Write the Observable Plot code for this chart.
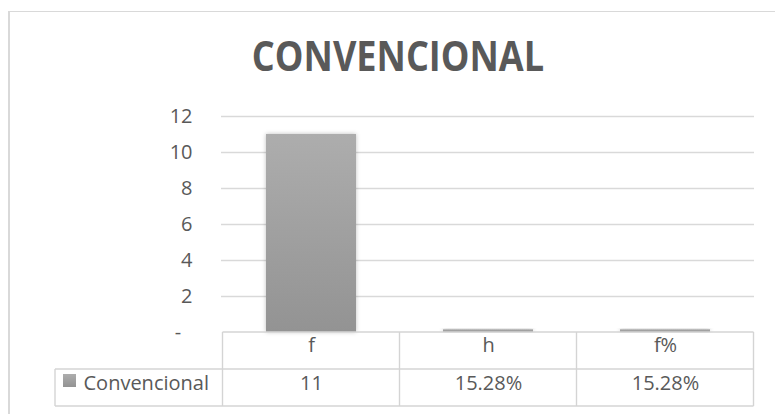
<!DOCTYPE html>
<html>
<head>
<meta charset="utf-8">
<script src="https://cdn.jsdelivr.net/npm/d3@7"></script>
<script src="https://cdn.jsdelivr.net/npm/@observablehq/plot@0.6"></script>
<style>
  html, body { margin: 0; padding: 0; background: #ffffff; }
  #wrap { position: relative; width: 775px; height: 414px; overflow: hidden; background: #fff; }
  #frame { position: absolute; left: 8px; top: 11px; width: 790px; height: 420px;
           border-left: 2px solid #d9d9d9; border-top: 1px solid #d9d9d9; box-sizing: border-box; }
  #title { position: absolute; left: 398px; top: 35px; transform: translateX(-50%) scaleX(0.88);
           font-family: "Open Sans", sans-serif; font-weight: 700; font-size: 41px; color: #595959;
           white-space: nowrap; line-height: 1; }
  #chart { position: absolute; left: 0; top: 0; }
</style>
</head>
<body>
<div id="wrap">
  <div id="frame"></div>
  <div id="chart"></div>
  <div id="title">CONVENCIONAL</div>
</div>
<script>
const categories = ["f", "h", "f%"];
const values = [11, 0.1528, 0.1528];
const valueLabels = ["11", "15.28%", "15.28%"];
const seriesName = "Convencional";
const yTicks = [0, 2, 4, 6, 8, 10, 12];
const chartTitle = "CONVENCIONAL";

document.getElementById("title").textContent = chartTitle;

const data = categories.map((c, i) => ({cat: c, value: values[i], label: valueLabels[i]}));
const textColor = "#595959";
const gridColor = "#d9d9d9";

const chart = Plot.plot({
  width: 775,
  height: 414,
  marginLeft: 221,
  marginRight: 21,
  marginTop: 116,
  marginBottom: 82,
  style: {fontFamily: "'Open Sans', sans-serif", fontSize: "20px", color: textColor, background: "transparent", overflow: "visible"},
  x: {domain: categories, paddingInner: 0.4935, paddingOuter: 0.2467, axis: null},
  y: {domain: [0, 12], axis: null, label: null},
  marks: [
    Plot.gridY(yTicks.filter(d => d > 0), {stroke: gridColor, strokeOpacity: 1, strokeWidth: 1.4}),
    Plot.axisY(yTicks, {tickSize: 0, tickPadding: 29, fill: textColor, fontSize: 20, label: null,
      tickFormat: d => d === 0 ? "-\u2007" : String(d)}),
    Plot.barY(data, {x: "cat", y: "value", fill: "url(#barGrad)"}),
    Plot.text(data, {x: "cat", text: "cat", frameAnchor: "bottom", dy: 19.6, fill: textColor, fontSize: 20}),
    Plot.text(data, {x: "cat", text: "label", frameAnchor: "bottom", dy: 57.6, fill: textColor, fontSize: 20}),
    Plot.text([seriesName], {text: d => d, frameAnchor: "bottom-left", textAnchor: "start", dx: -138, dy: 57.6, fill: textColor, fontSize: 20})
  ]
});

document.getElementById("chart").appendChild(chart);

// gradient + shadow defs
const svg = d3.select(chart);
const defs = svg.insert("defs", ":first-child");
const grad = defs.append("linearGradient").attr("id", "barGrad").attr("x1", 0).attr("y1", 0).attr("x2", 0).attr("y2", 1);
grad.append("stop").attr("offset", "0%").attr("stop-color", "#adadad");
grad.append("stop").attr("offset", "100%").attr("stop-color", "#939393");
const flt = defs.append("filter").attr("id", "barShadow").attr("x", "-20%").attr("y", "-20%").attr("width", "140%").attr("height", "140%");
flt.append("feDropShadow").attr("dx", 0).attr("dy", 0).attr("stdDeviation", 2).attr("flood-color", "#000").attr("flood-opacity", 0.25);
svg.selectAll("rect").filter(function() { return this.getAttribute("fill") === "url(#barGrad)" || this.parentNode.getAttribute("fill") === "url(#barGrad)"; })
  .attr("filter", "url(#barShadow)");

// data table grid, positioned from the plot's own scales
const xs = chart.scale("x");
const ys = chart.scale("y");
const step = xs.step, bw = xs.bandwidth;
const centers = categories.map(c => xs.apply(c) + bw / 2);
const bounds = [centers[0] - step / 2, ...centers.map(c => c + step / 2)];
const y0 = ys.apply(0);
const rowH = 37;
const legendLeft = 55;
const tableColor = "#d4d4d4";
const g = svg.append("g").attr("stroke", tableColor).attr("stroke-width", 1.4).attr("fill", "none");
g.append("line").attr("x1", bounds[0]).attr("x2", bounds[bounds.length - 1]).attr("y1", y0).attr("y2", y0);
g.append("line").attr("x1", legendLeft).attr("x2", bounds[bounds.length - 1]).attr("y1", y0 + rowH).attr("y2", y0 + rowH);
g.append("line").attr("x1", legendLeft).attr("x2", bounds[bounds.length - 1]).attr("y1", y0 + 2 * rowH).attr("y2", y0 + 2 * rowH);
bounds.forEach(b => g.append("line").attr("x1", b).attr("x2", b).attr("y1", y0).attr("y2", y0 + 2 * rowH));
g.append("line").attr("x1", legendLeft).attr("x2", legendLeft).attr("y1", y0 + rowH).attr("y2", y0 + 2 * rowH);
// legend key
svg.append("rect").attr("x", 63).attr("y", y0 + rowH + 5).attr("width", 13).attr("height", 13).attr("fill", "url(#barGrad)");
</script>
</body>
</html>
